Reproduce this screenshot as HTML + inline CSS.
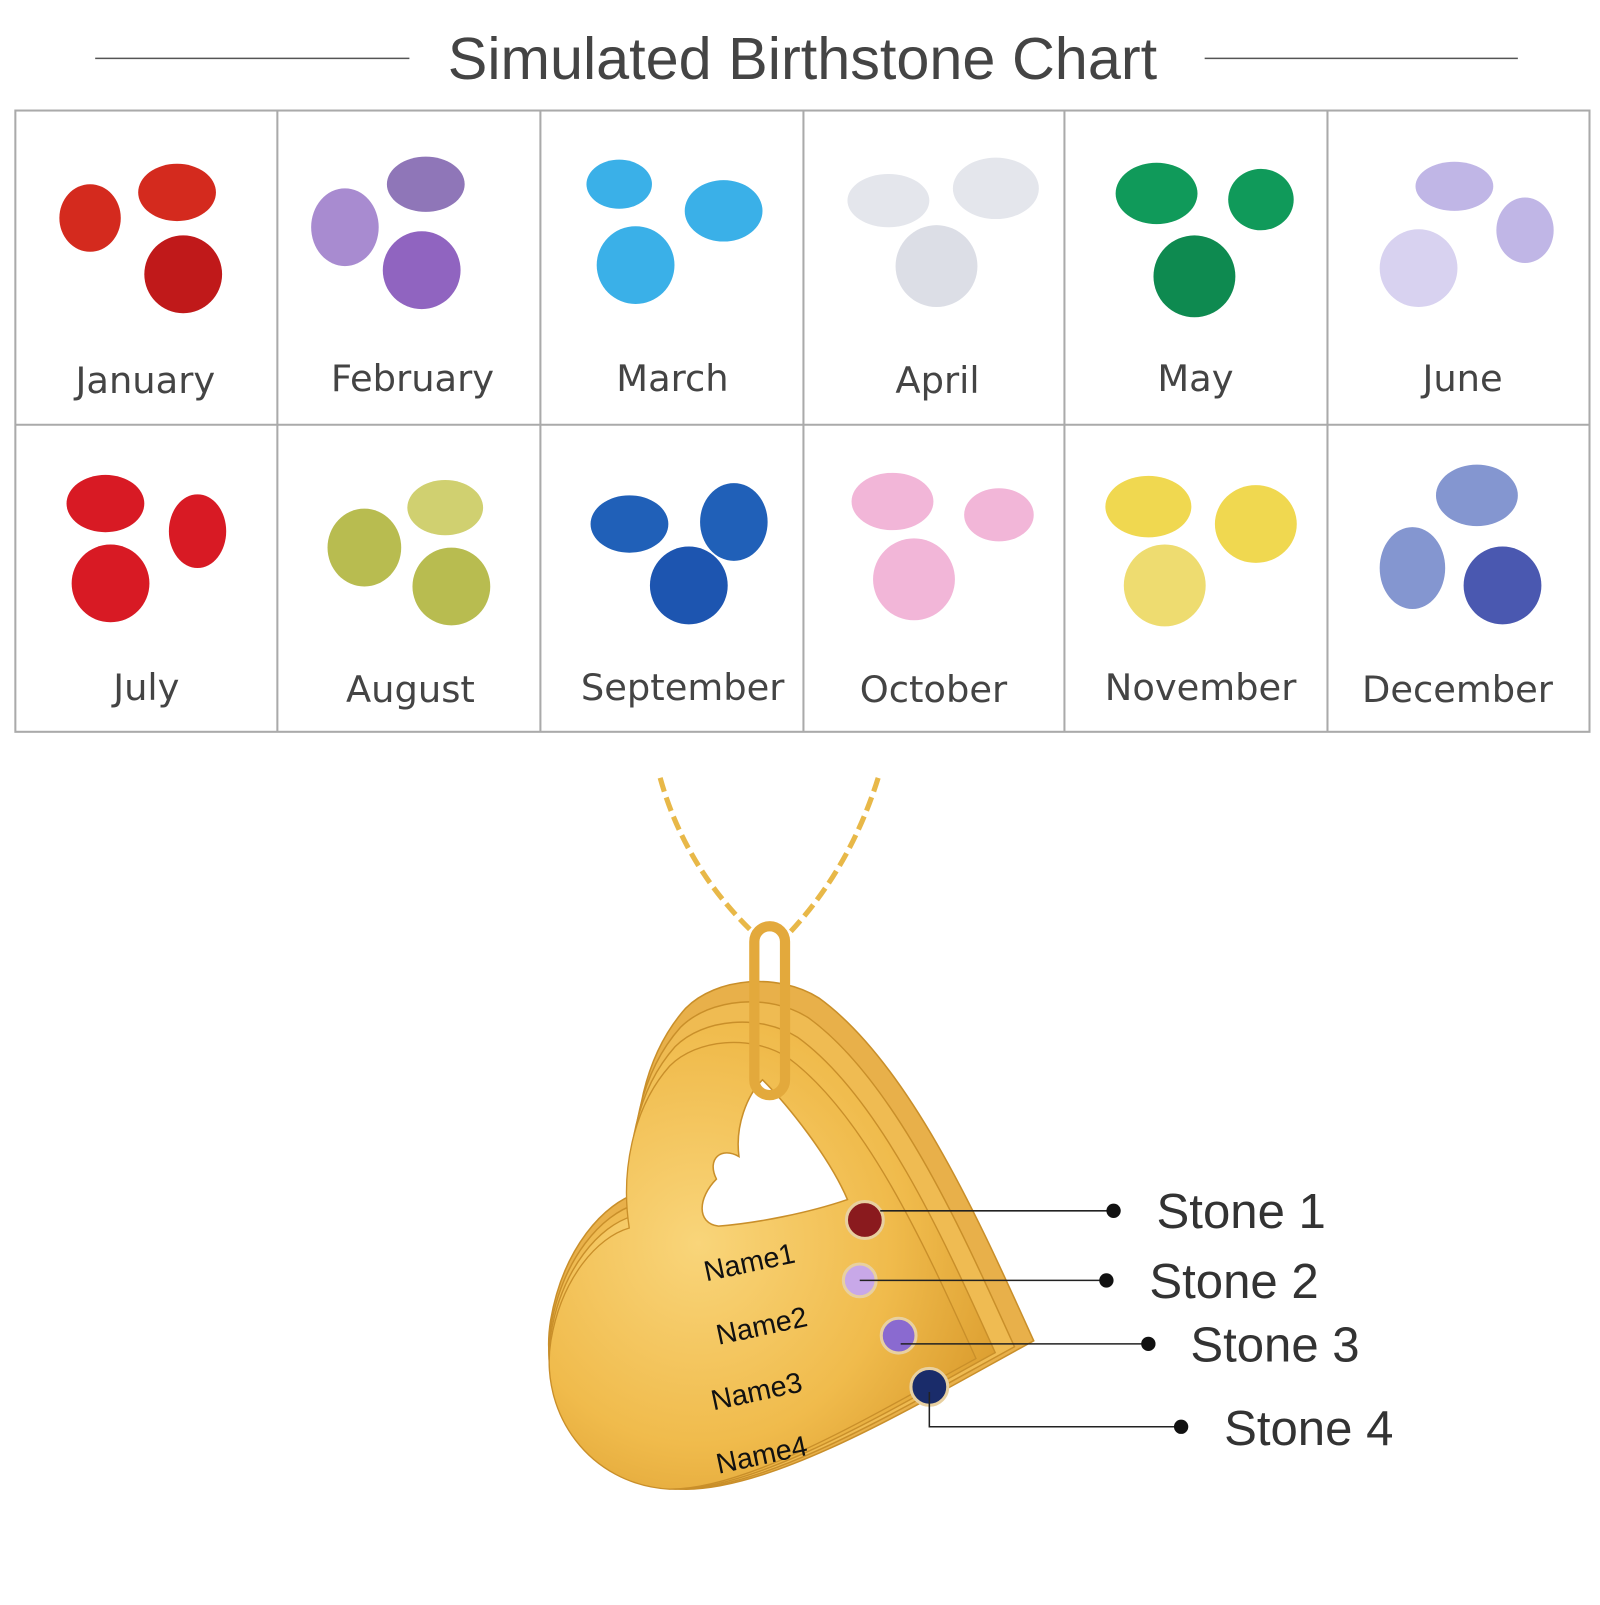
<!DOCTYPE html>
<html><head><meta charset="utf-8"><style>
body{margin:0;width:1600px;height:1600px;background:#fff;overflow:hidden;font-family:"Liberation Sans",sans-serif}
</style></head><body>
<svg width="1600" height="1600" viewBox="0 0 1600 1600" xmlns="http://www.w3.org/2000/svg">
<defs>
<radialGradient id="gold" cx="35%" cy="45%" r="75%"><stop offset="0" stop-color="#f9d57a"/><stop offset="0.6" stop-color="#f0bb4c"/><stop offset="1" stop-color="#d99a2c"/></radialGradient>
<path id="P" d="M1010,1310 C960,1200 890,1040 800,975 C760,950 700,955 670,985 C630,1030 615,1100 625,1165 C590,1175 550,1220 538,1290 C525,1370 580,1450 670,1455 C760,1455 900,1370 1010,1310 Z"/>
</defs>
<g transform="scale(1.0235)">
<line x1="93" y1="57" x2="400" y2="57" stroke="#555" stroke-width="1.5"/>
<line x1="1177" y1="57" x2="1483" y2="57" stroke="#555" stroke-width="1.5"/>
<text x="784" y="77" font-size="58" fill="#444" text-anchor="middle">Simulated Birthstone Chart</text>
<g stroke="#aaa" stroke-width="2" fill="none">
<rect x="15" y="108" width="1538" height="607"/>
<line x1="15" y1="415" x2="1553" y2="415"/>
<line x1="271" y1="108" x2="271" y2="715"/><line x1="528" y1="108" x2="528" y2="715"/>
<line x1="785" y1="108" x2="785" y2="715"/><line x1="1040" y1="108" x2="1040" y2="715"/>
<line x1="1297" y1="108" x2="1297" y2="715"/>
</g>
<g font-size="36" fill="#444" text-anchor="middle" font-family="DejaVu Sans">
<text x="142" y="384">January</text><text x="403" y="382">February</text><text x="657" y="382">March</text>
<text x="916" y="384">April</text><text x="1168" y="382">May</text><text x="1429" y="382">June</text>
<text x="143" y="684">July</text><text x="401" y="686">August</text><text x="667" y="684">September</text>
<text x="912" y="686">October</text><text x="1173" y="684">November</text><text x="1424" y="686">December</text>
</g>
<g>
<g fill="#d42a1e"><ellipse cx="88" cy="213" rx="30" ry="33"/><ellipse cx="173" cy="188" rx="38" ry="28"/><circle cx="179" cy="268" r="38" fill="#c0191a"/></g>
<g fill="#a88bd0"><ellipse cx="337" cy="222" rx="33" ry="38"/><ellipse cx="416" cy="180" rx="38" ry="27" fill="#8f76b8"/><circle cx="412" cy="264" r="38" fill="#9064c0"/></g>
<g fill="#3ab0e8"><ellipse cx="605" cy="180" rx="32" ry="24"/><ellipse cx="707" cy="206" rx="38" ry="30"/><circle cx="621" cy="259" r="38"/></g>
<g fill="#e4e6ec"><ellipse cx="868" cy="196" rx="40" ry="26"/><ellipse cx="973" cy="184" rx="42" ry="30"/><circle cx="915" cy="260" r="40" fill="#dcdee6"/></g>
<g fill="#109a5a"><ellipse cx="1130" cy="189" rx="40" ry="30"/><ellipse cx="1232" cy="195" rx="32" ry="30"/><circle cx="1167" cy="270" r="40" fill="#0e8a50"/></g>
<g fill="#c0b6e6"><ellipse cx="1421" cy="182" rx="38" ry="24"/><ellipse cx="1490" cy="225" rx="28" ry="32"/><circle cx="1386" cy="262" r="38" fill="#d8d2f0"/></g>
<g fill="#d81a24"><ellipse cx="103" cy="492" rx="38" ry="28"/><ellipse cx="193" cy="519" rx="28" ry="36"/><circle cx="108" cy="570" r="38"/></g>
<g fill="#b8bc50"><ellipse cx="356" cy="535" rx="36" ry="38"/><ellipse cx="435" cy="496" rx="37" ry="27" fill="#d0d070"/><circle cx="441" cy="573" r="38"/></g>
<g fill="#2060b8"><ellipse cx="615" cy="512" rx="38" ry="28"/><ellipse cx="717" cy="510" rx="33" ry="38"/><circle cx="673" cy="572" r="38" fill="#1d55b0"/></g>
<g fill="#f2b6d8"><ellipse cx="872" cy="490" rx="40" ry="28"/><ellipse cx="976" cy="503" rx="34" ry="26"/><circle cx="893" cy="566" r="40"/></g>
<g fill="#f0d850"><ellipse cx="1122" cy="495" rx="42" ry="30"/><ellipse cx="1227" cy="512" rx="40" ry="38"/><circle cx="1138" cy="572" r="40" fill="#eedc70"/></g>
<g fill="#8496d0"><ellipse cx="1443" cy="484" rx="40" ry="30"/><ellipse cx="1380" cy="555" rx="32" ry="40"/><circle cx="1468" cy="572" r="38" fill="#4a58b0"/></g>
</g>
<g stroke="#e8b848" stroke-width="5" fill="none" stroke-dasharray="14 6">
<path d="M645 760 Q670 850 740 915"/><path d="M858 760 Q830 850 768 915"/>
</g>
<g stroke="#c98f2a" stroke-width="1.5">
<use href="#P" fill="#e8b04a"/>
<use href="#P" fill="#efbb52" transform="translate(540,1455) scale(0.96) translate(-540,-1455)"/>
<use href="#P" fill="url(#gold)" transform="translate(540,1455) scale(0.92) translate(-540,-1455)"/>
<use href="#P" fill="url(#gold)" transform="translate(540,1455) scale(0.88) translate(-540,-1455)"/>
<path d="M745,1055 C770,1080 810,1130 828,1172 C790,1185 740,1195 702,1198 C680,1195 682,1170 700,1152 C690,1132 705,1120 722,1130 C718,1100 730,1070 745,1055 Z" fill="#fff"/>
</g>
<rect x="737" y="905" width="30" height="165" rx="15" fill="none" stroke="#e3a93c" stroke-width="10"/>
<g font-size="28" fill="#111">
<text x="690" y="1252" transform="rotate(-12 690 1252)">Name1</text>
<text x="702" y="1314" transform="rotate(-12 702 1314)">Name2</text>
<text x="697" y="1378" transform="rotate(-12 697 1378)">Name3</text>
<text x="702" y="1440" transform="rotate(-12 702 1440)">Name4</text>
</g>
<circle cx="845" cy="1192" r="18" fill="#8a1a1e" stroke="#e8d0a0" stroke-width="3"/>
<circle cx="840" cy="1251" r="16" fill="#c8a8e8" stroke="#e8d0a0" stroke-width="3"/>
<circle cx="878" cy="1305" r="17" fill="#8a6ad0" stroke="#e8d0a0" stroke-width="3"/>
<circle cx="908" cy="1355" r="18" fill="#1a2c6a" stroke="#e8d0a0" stroke-width="3"/>
<g stroke="#222" stroke-width="1.5" fill="none">
<line x1="860" y1="1183" x2="1088" y2="1183"/>
<line x1="840" y1="1251" x2="1081" y2="1251"/>
<line x1="880" y1="1313" x2="1122" y2="1313"/>
<polyline points="908,1360 908,1394 1154,1394"/>
</g>
<g fill="#111"><circle cx="1088" cy="1183" r="7"/><circle cx="1081" cy="1251" r="7"/><circle cx="1122" cy="1313" r="7"/><circle cx="1154" cy="1394" r="7"/></g>
<g font-size="48" fill="#333">
<text x="1130" y="1200">Stone 1</text><text x="1123" y="1268">Stone 2</text>
<text x="1163" y="1330">Stone 3</text><text x="1196" y="1412">Stone 4</text>
</g>
</g>
</svg>
</body></html>
